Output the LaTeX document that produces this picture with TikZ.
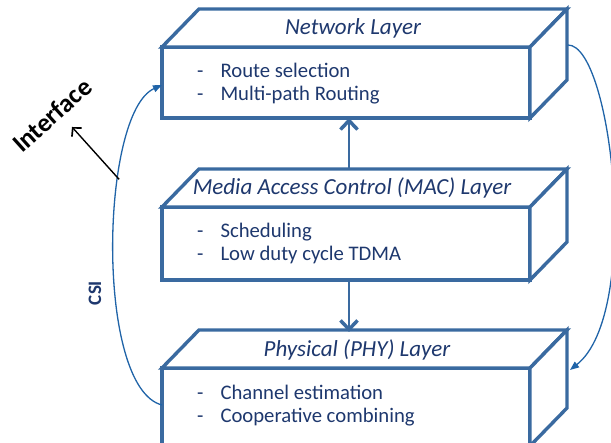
\documentclass[tikz,border=0pt]{standalone}
\usepackage{fontspec}
\setmainfont{Carlito}
\usetikzlibrary{arrows.meta,calc}
\definecolor{boxblue}{RGB}{58,106,160}
\definecolor{navy}{RGB}{30,56,110}
\definecolor{curveblue}{RGB}{32,100,168}

% draws the top and right faces of a layer block behind its front face
\newcommand\layerdepth[1]{%
  \draw[face] (#1.north west) -- ++(37,38) -- ($(#1.north east)+(37,38)$) -- (#1.north east) -- cycle;
  \draw[face] (#1.north east) -- ++(37,38) -- ($(#1.south east)+(37,38)$) -- (#1.south east) -- cycle;
}

\begin{document}
\begin{tikzpicture}[x=1pt,y=1pt,
  face/.style={draw=boxblue, line width=3.4pt, line join=miter, fill=white},
  front/.style={face, rectangle, minimum width=368pt, inner sep=0pt, outer sep=0pt},
  title/.style={font=\fontsize{23}{27}\selectfont\itshape, text=navy, anchor=base, inner sep=0pt},
  body/.style={font=\fontsize{20.7}{23}\selectfont, text=navy, anchor=base west, inner sep=0pt},
  layerarrow/.style={draw=boxblue, line width=2pt, -{Straight Barb[length=9pt,width=17pt,line width=3.5pt]}},
  loop/.style={draw=curveblue, line width=1.3pt, -{Triangle[length=9pt,width=7pt]}},
  pointer/.style={draw=black, line width=1.4pt, -{Straight Barb[length=6pt,width=13pt,line width=1.7pt]}},
]
\useasboundingbox (0,0) rectangle (611,443);
\fill[white] (0,0) rectangle (611,443);

% front faces of the three layers
\node[front, minimum height=71pt] (net) at (346,360.5) {};
\node[front, minimum height=73pt] (mac) at (346,199.5) {};
\node[front, minimum height=78pt] (phy) at (346,36) {};
\layerdepth{net}
\layerdepth{mac}
\layerdepth{phy}

% layer titles
\node[title] (nett) at (353,408) {Network Layer};
\node[title] (mact) at (352,248) {Media Access Control (MAC) Layer};
\node[title] (phyt) at (357,86) {Physical (PHY) Layer};

% layer functions
\node[body] (netb) at (197,365) {\begin{tabular}[t]{@{}l@{\hspace{17pt}}l@{}}-&Route selection\\-&Multi-path Routing\end{tabular}};
\node[body] (macb) at (197,205) {\begin{tabular}[t]{@{}l@{\hspace{17pt}}l@{}}-&Scheduling\\-&Low duty cycle TDMA\end{tabular}};
\node[body] (phyb) at (197,43) {\begin{tabular}[t]{@{}l@{\hspace{17pt}}l@{}}-&Channel estimation\\-&Cooperative combining\end{tabular}};

% arrows between adjacent layers
\draw[layerarrow] ($(mac.north)+(3,37)$) -- ($(net.south)+(3,0)$);
\draw[layerarrow] ($(mac.south)+(3,0)$) -- ($(phy.north)+(3,36)$);

% CSI feedback and cross-layer loop
\draw[loop] ($(phy.west)+(0,2)$) .. controls (95,55) and (100,330) .. coordinate[pos=0.66] (ifc) ($(net.west)+(0,-2.5)$);
\draw[loop] ($(net.north east)+(38,2)$) .. controls (612,398) and (642,130) .. ($(phy.north east)+(40,-2)$);

\node[font=\fontsize{19}{22}\selectfont\bfseries, text=navy, rotate=90] (csi) at (95,150) {CSI};

% interface label
\node[font=\fontsize{26}{30}\selectfont\bfseries, rotate=42, inner sep=0pt] (iface) at (52,328) {Interface};
\coordinate (itip) at (72,316);
\draw[pointer] (ifc) -- (itip);
\end{tikzpicture}
\end{document}
